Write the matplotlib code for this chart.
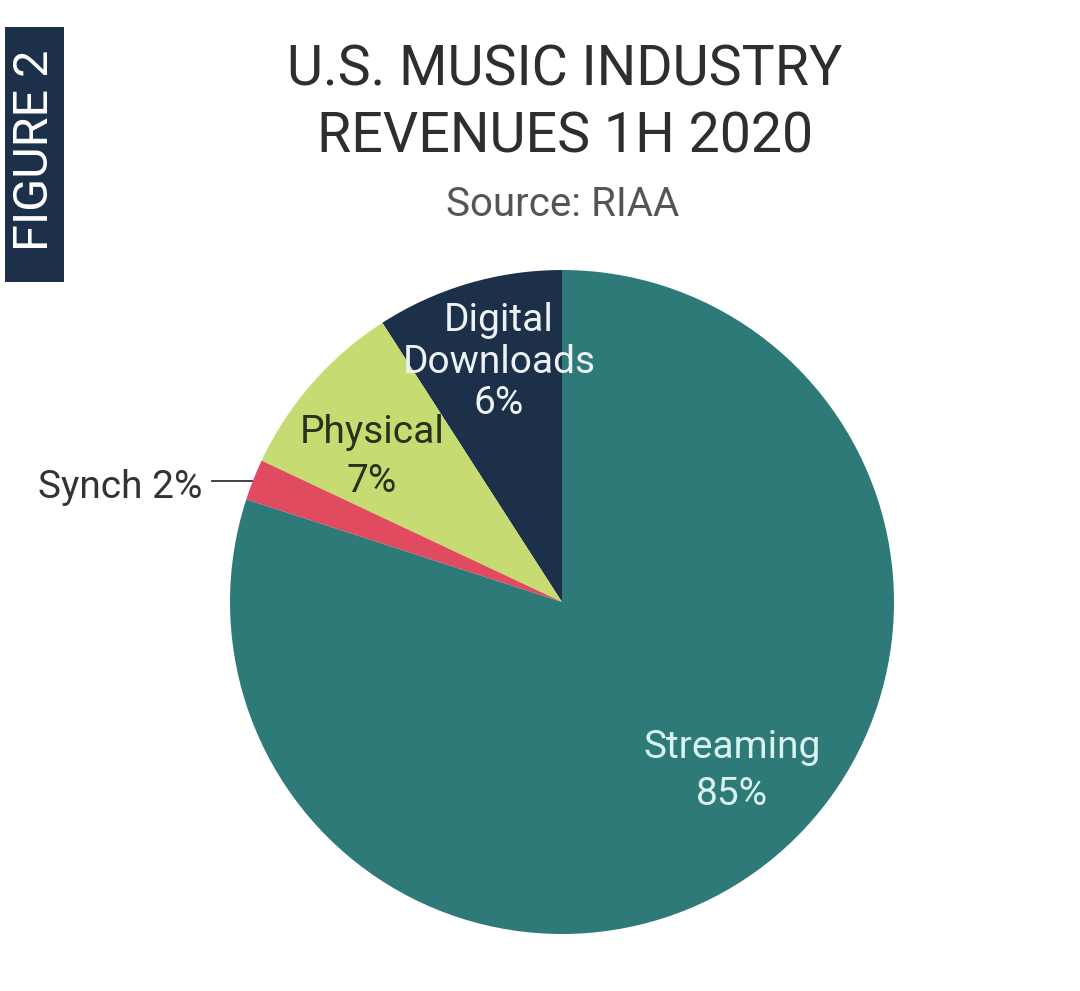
import matplotlib

matplotlib.use("Agg")
import matplotlib.pyplot as plt
from matplotlib.patches import Rectangle

# values as printed on the chart, and slice sizes as drawn in the picture
categories = ["Digital\nDownloads", "Physical", "Synch", "Streaming"]
label_pct = [6, 7, 2, 85]
slice_share = [9.1, 8.9, 2.0, 80.0]
colors = ["#1d3049", "#c6dc72", "#e14b5f", "#2e7a78"]
text_colors = ["#eef2f6", "#26331c", "#333333", "#d9f3ee"]

W, H = 1080, 991
CX, CY, R = 562, 602, 332

plt.rcParams["font.family"] = ["Roboto", "DejaVu Sans"]

fig = plt.figure(figsize=(W / 100, H / 100), dpi=100)
fig.patch.set_facecolor("white")


def px(x, y):
    """pixel position -> data coords of the pie axes"""
    return (x - CX) / R, (CY - y) / R


ax = fig.add_axes([(CX - R) / W, (H - CY - R) / H, 2 * R / W, 2 * R / H])
ax.pie(slice_share, colors=colors, startangle=90, counterclock=True,
       radius=1.0, wedgeprops=dict(linewidth=0))
ax.set_xlim(-1, 1)
ax.set_ylim(-1, 1)
ax.set_aspect("equal")
ax.axis("off")

# labels inside the slices
label_pos = [(499, 362), (372, 457), None, (732, 771)]
spacing = [1.17, 1.4, 1.0, 1.35]
for cat, pct, pos, col, ls in zip(categories, label_pct, label_pos, text_colors, spacing):
    if pos is None:
        continue
    ax.text(*px(*pos), f"{cat}\n{pct}%", ha="center", va="center",
            fontsize=28, color=col, linespacing=ls)

# synch label sits outside with a leader line
ax.text(*px(38, 487), f"{categories[2]} {label_pct[2]}%", ha="left", va="center",
        fontsize=28, color=text_colors[2], clip_on=False)
x0, y0 = px(212, 481)
x1, y1 = px(252, 481)
ax.plot([x0, x1], [y0, y1], color="#333333", lw=1.3, clip_on=False)

# title block
fig.text(565 / W, 1 - 70 / H, "U.S. MUSIC INDUSTRY", ha="center", va="center",
         fontsize=40, color="#2e2e2e")
fig.text(565 / W, 1 - 137 / H, "REVENUES 1H 2020", ha="center", va="center",
         fontsize=40, color="#2e2e2e")
fig.text(563 / W, 1 - 205 / H, "Source: RIAA", ha="center", va="center",
         fontsize=29, color="#555555")

# vertical "FIGURE 2" tab
fig.patches.append(Rectangle((5 / W, 1 - 282 / H), 59 / W, 255 / H,
                             transform=fig.transFigure, facecolor="#1d3049",
                             edgecolor="none"))
fig.text(35 / W, 1 - 150 / H, "FIGURE 2", rotation=90, ha="center", va="center",
         fontsize=35, color="white")

fig.savefig("out.png", dpi=100, facecolor="white")
